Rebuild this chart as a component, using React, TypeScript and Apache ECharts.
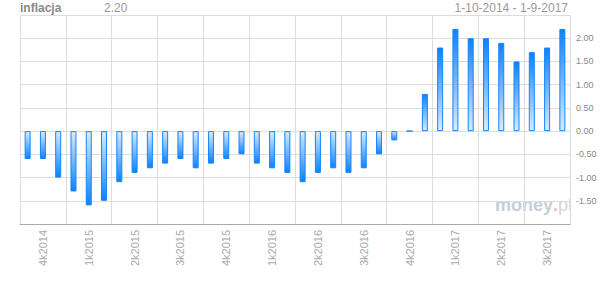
import React, { useEffect, useRef } from "react";
import * as echarts from "echarts";

const months: string[] = [
  "10-2014", "11-2014", "12-2014",
  "1-2015", "2-2015", "3-2015", "4-2015", "5-2015", "6-2015", "7-2015", "8-2015", "9-2015", "10-2015", "11-2015", "12-2015",
  "1-2016", "2-2016", "3-2016", "4-2016", "5-2016", "6-2016", "7-2016", "8-2016", "9-2016", "10-2016", "11-2016", "12-2016",
  "1-2017", "2-2017", "3-2017", "4-2017", "5-2017", "6-2017", "7-2017", "8-2017", "9-2017",
];

const inflation: number[] = [
  -0.6, -0.6, -1.0,
  -1.3, -1.6, -1.5, -1.1, -0.9, -0.8, -0.7, -0.6, -0.8, -0.7, -0.6, -0.5,
  -0.7, -0.8, -0.9, -1.1, -0.9, -0.8, -0.9, -0.8, -0.5, -0.2, 0.0, 0.8,
  1.8, 2.2, 2.0, 2.0, 1.9, 1.5, 1.7, 1.8, 2.2,
];

const quarterLabels: string[] = [
  "4k2014", "1k2015", "2k2015", "3k2015", "4k2015", "1k2016",
  "2k2016", "3k2016", "4k2016", "1k2017", "2k2017", "3k2017",
];

const titleText = "inflacja";
const lastValueText = "2.20";
const rangeText = "1-10-2014 - 1-9-2017";

const DARK = "#0a82ff";
const LIGHT = "#dbebf8";

export default function App() {
  const ref = useRef<HTMLDivElement>(null);

  useEffect(() => {
    if (!ref.current) return;
    const chart = echarts.init(ref.current, null, { renderer: "svg" });
    const font = "Liberation Sans, Arial, sans-serif";

    const barData = inflation.map((v) => ({
      value: v,
      itemStyle: {
        color: new echarts.graphic.LinearGradient(0, 0, 0, 1, v >= 0
          ? [{ offset: 0, color: DARK }, { offset: 1, color: LIGHT }]
          : [{ offset: 0, color: LIGHT }, { offset: 1, color: DARK }]),
      },
    }));

    chart.setOption({
      animation: false,
      backgroundColor: "#ffffff",
      textStyle: { fontFamily: font },
      grid: {
        left: 20,
        right: 35,
        top: 15,
        bottom: 60,
        containLabel: false,
        outerBoundsMode: "none",
      },
      xAxis: {
        type: "category",
        data: months,
        boundaryGap: true,
        axisLine: { show: true, onZero: false, lineStyle: { color: "#aaaaaa", width: 1 } },
        axisTick: { show: false },
        splitLine: {
          show: true,
          interval: (i: number) => i % 3 === 0,
          lineStyle: { color: "#dddddd", width: 1 },
        },
        axisLabel: {
          interval: (i: number) => i % 3 === 1,
          rotate: 90,
          margin: 6,
          color: "#aaaaaa",
          fontSize: 11,
          fontFamily: font,
          formatter: (_v: string, i: number) => (i % 3 === 1 ? quarterLabels[(i - 1) / 3] : ""),
        },
      },
      yAxis: {
        type: "value",
        position: "right",
        min: -2,
        max: 2.5,
        interval: 0.5,
        axisLine: { show: false },
        axisTick: { show: false },
        splitLine: { show: true, lineStyle: { color: "#dddddd", width: 1 } },
        axisLabel: {
          margin: 6,
          color: "#888888",
          fontSize: 9,
          fontFamily: font,
          formatter: (v: number) => (v >= 2.4 || v <= -1.9 ? "" : v.toFixed(2)),
        },
      },
      graphic: [
        {
          type: "text",
          x: 20,
          y: 2,
          style: { text: titleText, fill: "#888888", font: `bold 12px ${font}`, textVerticalAlign: "top" },
        },
        {
          type: "text",
          x: 104,
          y: 2,
          style: { text: lastValueText, fill: "#999999", font: `12px ${font}`, textVerticalAlign: "top" },
        },
        {
          type: "text",
          x: 568,
          y: 2,
          style: { text: rangeText, fill: "#999999", font: `12px ${font}`, textAlign: "right", textVerticalAlign: "top" },
        },
        {
          type: "text",
          x: 495,
          y: 196,
          style: { text: "money", fill: "#c7cedb", font: `bold 18px ${font}`, textVerticalAlign: "top" },
        },
        {
          type: "text",
          x: 553,
          y: 196,
          style: { text: ".", fill: "#f1b9c7", font: `bold 18px ${font}`, textVerticalAlign: "top" },
        },
        {
          type: "text",
          x: 558,
          y: 196,
          style: { text: "pl", fill: "#d0d6e0", font: `18px ${font}`, textVerticalAlign: "top" },
        },
      ],
      series: [
        {
          type: "bar",
          data: barData,
          barWidth: 6,
          itemStyle: { borderColor: "#1486ff", borderWidth: 1 },
          emphasis: { disabled: true },
        },
      ],
    });

    return () => chart.dispose();
  }, []);

  return (
    <div
      ref={ref}
      style={{ position: "fixed", left: 0, top: 0, width: 605, height: 284, background: "#fff" }}
    />
  );
}
